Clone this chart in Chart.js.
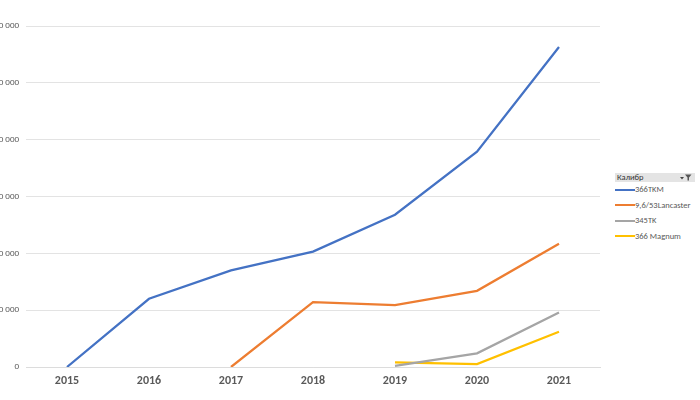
<!DOCTYPE html>
<html>
<head>
<meta charset="utf-8">
<script src="https://cdn.jsdelivr.net/npm/chart.js@4"></script>
<style>
  html, body { margin: 0; padding: 0; background: #fff; }
  #frame { position: absolute; left: 0; top: 0; width: 700px; height: 400px; overflow: hidden; background: #fff; }
  #plot { position: absolute; left: -30px; top: 0; width: 632px; height: 400px; }
  #legend { position: absolute; left: 615px; top: 173px; width: 80px; font-family: Calibri, Carlito, "Liberation Sans", sans-serif; font-size: 8.5px; color: #595959; }
  #legend .head { height: 9px; background: #e4e4e4; color: #333; padding-left: 2px; line-height: 9px; position: relative; }
  #legend .head svg { position: absolute; right: 3px; top: 1px; }
  #legend .item { height: 15.5px; line-height: 15.5px; position: relative; white-space: nowrap; }
  #legend .item i { display: inline-block; width: 20px; height: 2px; vertical-align: middle; }
</style>
</head>
<body>
<div id="frame">
  <div id="plot"><canvas id="chart"></canvas></div>
  <div id="legend"></div>
</div>
<script>
  'use strict';

  const years = ['2015', '2016', '2017', '2018', '2019', '2020', '2021'];
  const seriesNames = ['366TKM', '9,6/53Lancaster', '345TK', '366 Magnum'];
  const tkm366 = [0, 12000, 17000, 20300, 26800, 37900, 56300];
  const lancaster = [null, null, 0, 11400, 10900, 13400, 21700];
  const tk345 = [null, null, null, null, 200, 2400, 9600];
  const magnum366 = [null, null, null, null, 800, 500, 6200];
  const yTicks = [0, 10000, 20000, 30000, 40000, 50000, 60000];
  const colors = ['#4472C4', '#ED7D31', '#A5A5A5', '#FFC000'];
  const legendTitle = 'Калибр';

  const values = [tkm366, lancaster, tk345, magnum366];
  const fmt = v => String(v).replace(/\B(?=(\d{3})+(?!\d))/g, ' ');

  new Chart(document.getElementById('chart'), {
    type: 'line',
    data: {
      labels: years,
      datasets: seriesNames.map((name, i) => ({
        label: name,
        data: values[i],
        borderColor: colors[i],
        backgroundColor: colors[i],
        borderWidth: 2.25,
        pointRadius: 0,
        tension: 0,
        spanGaps: false
      }))
    },
    options: {
      responsive: true,
      maintainAspectRatio: false,
      animation: false,
      layout: { padding: { top: 26, right: 2, bottom: 0, left: 0 } },
      plugins: {
        legend: { display: false },
        tooltip: { enabled: false }
      },
      scales: {
        x: {
          offset: true,
          grid: { display: false, drawTicks: false },
          border: { display: true, color: '#dcdcdc' },
          ticks: {
            padding: 7,
            color: '#595959',
            font: { family: 'Calibri, Carlito, "Liberation Sans", sans-serif', size: 12, weight: 'bold' }
          },
          afterFit: scale => { scale.height = 33; }
        },
        y: {
          min: 0,
          max: 60000,
          afterBuildTicks: scale => { scale.ticks = yTicks.map(v => ({ value: v })); },
          grid: { color: '#e3e3e3', drawTicks: false },
          border: { display: false },
          ticks: {
            padding: 7,
            color: '#595959',
            font: { family: 'Calibri, Carlito, "Liberation Sans", sans-serif', size: 9 },
            callback: v => fmt(v)
          },
          afterFit: scale => { scale.width = 56; }
        }
      }
    }
  });

  // legend like the Excel pivot field button
  const funnel = '<svg width="12" height="7" viewBox="0 0 12 7">' +
    '<path d="M0 3 L4 3 L2 5.5 Z" fill="#444"/>' +
    '<path d="M5 0.5 L11.5 0.5 L9 3.5 L9 6.5 L7.5 6.5 L7.5 3.5 Z" fill="#555"/></svg>';
  let html = '<div class="head">' + legendTitle + funnel + '</div>';
  seriesNames.forEach((name, i) => {
    html += '<div class="item"><i style="background:' + colors[i] + '"></i>' + name + '</div>';
  });
  document.getElementById('legend').innerHTML = html;
</script>
</body>
</html>
